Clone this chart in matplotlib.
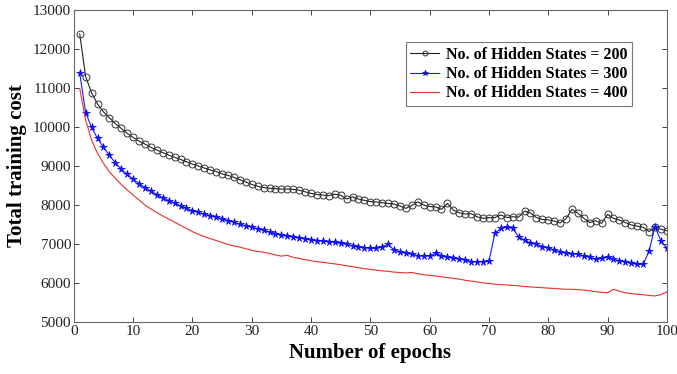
import matplotlib
matplotlib.use("Agg")
import matplotlib.pyplot as plt
import numpy as np

plt.rcParams['font.family'] = ['Liberation Serif', 'DejaVu Serif']

# %% data
epochs = np.arange(1, 101)

cost_200 = [12390, 11290, 10880, 10590, 10390, 10240, 10090, 9965, 9840, 9735,
            9640, 9565, 9480, 9410, 9345, 9280, 9225, 9170, 9110, 9050,
            9000, 8950, 8900, 8860, 8800, 8760, 8710, 8650, 8590, 8530,
            8480, 8450, 8430, 8420, 8410, 8410, 8400, 8380, 8340, 8300,
            8270, 8255, 8240, 8280, 8250, 8155, 8210, 8155, 8120, 8090,
            8080, 8060, 8040, 8025, 7975, 7915, 7990, 8080, 8000, 7960,
            7955, 7890, 8040, 7870, 7800, 7770, 7780, 7700, 7660, 7675,
            7680, 7745, 7680, 7700, 7690, 7845, 7800, 7680, 7630, 7620,
            7590, 7540, 7650, 7890, 7790, 7660, 7550, 7600, 7530, 7760,
            7660, 7615, 7550, 7490, 7460, 7430, 7320, 7430, 7380, 7340]

cost_300 = [11380, 10370, 9990, 9710, 9480, 9280, 9085, 8920, 8785, 8665,
            8550, 8450, 8355, 8270, 8185, 8115, 8050, 7980, 7920, 7860,
            7810, 7770, 7730, 7690, 7650, 7600, 7560, 7510, 7470, 7430,
            7390, 7350, 7310, 7270, 7230, 7200, 7180, 7160, 7140, 7110,
            7090, 7080, 7060, 7040, 7020, 6990, 6960, 6930, 6910, 6890,
            6890, 6930, 6990, 6850, 6800, 6760, 6740, 6700, 6695, 6700,
            6760, 6695, 6660, 6640, 6610, 6600, 6550, 6550, 6550, 6555,
            7275, 7400, 7430, 7400, 7190, 7100, 7020, 7000, 6930, 6900,
            6850, 6800, 6760, 6750, 6745, 6690, 6660, 6610, 6630, 6675,
            6610, 6570, 6545, 6505, 6480, 6480, 6820, 7445, 7080, 6890]

cost_400 = [10990, 10180, 9670, 9325, 9070, 8855, 8685, 8530, 8385, 8256,
            8130, 8000, 7900, 7810, 7720, 7640, 7560, 7480, 7400, 7320,
            7250, 7190, 7140, 7090, 7040, 6990, 6950, 6920, 6880, 6840,
            6810, 6790, 6760, 6720, 6690, 6710, 6660, 6630, 6600, 6570,
            6550, 6530, 6510, 6490, 6470, 6440, 6420, 6390, 6370, 6350,
            6330, 6310, 6300, 6280, 6270, 6260, 6270, 6240, 6210, 6200,
            6180, 6160, 6140, 6120, 6100, 6070, 6050, 6030, 6000, 5990,
            5970, 5960, 5950, 5940, 5930, 5910, 5900, 5890, 5880, 5870,
            5860, 5850, 5840, 5840, 5830, 5820, 5800, 5780, 5760, 5750,
            5840, 5790, 5750, 5730, 5710, 5700, 5680, 5670, 5700, 5770]

labels = ['No. of Hidden States = 200',
          'No. of Hidden States = 300',
          'No. of Hidden States = 400']

# %% figure
fig = plt.figure(figsize=(6.77, 3.74), dpi=100)
ax = fig.add_axes([0.109, 0.139, 0.876, 0.834])

ax.plot(epochs, cost_200, color='#222222', lw=0.8, marker='o', markersize=5,
        markerfacecolor='none', markeredgecolor='#333333', markeredgewidth=0.7,
        label=labels[0])
ax.plot(epochs, cost_300, color='#1a1aff', lw=0.8, marker='*', markersize=5.5,
        markeredgecolor='#0000ee', markeredgewidth=0.5, label=labels[1])
ax.plot(epochs, cost_400, color='#e8302a', lw=0.8, label=labels[2])

ax.set_xlim(0, 100)
ax.set_ylim(5000, 13000)
ax.set_xticks(np.arange(0, 101, 10))
ax.set_yticks(np.arange(5000, 13001, 1000))
ax.tick_params(direction='in', length=3.5, width=0.6, top=True, right=True,
               labelsize=11, colors='#222222', pad=2)
for s in ax.spines.values():
    s.set_color('#666666')
    s.set_linewidth(0.8)

ax.set_xlabel('Number of epochs', fontsize=15, fontweight='bold', labelpad=4)
ax.set_ylabel('Total training cost', fontsize=15, fontweight='bold', labelpad=4)

leg = ax.legend(loc='upper right', bbox_to_anchor=(0.941, 0.897), borderaxespad=0,
                prop={'weight': 'bold', 'size': 11.5}, fancybox=False,
                edgecolor='#777777', framealpha=1, handlelength=1.8,
                handletextpad=0.4, labelspacing=0.2, borderpad=0.3,
                markerscale=0.7)
leg.get_frame().set_linewidth(0.8)

fig.savefig('out.png', dpi=100)
